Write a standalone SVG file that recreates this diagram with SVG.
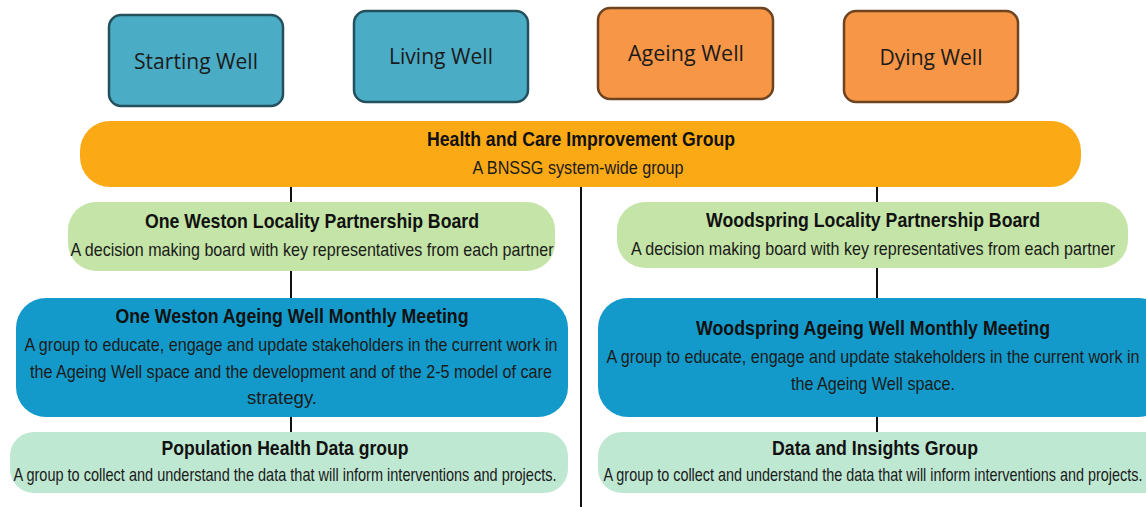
<svg xmlns="http://www.w3.org/2000/svg" width="1146" height="507" viewBox="0 0 1146 507">
  <style>
    .well { font-family: "Open Sans", "Liberation Sans", sans-serif; font-size: 21px; fill: #1b1b1b; text-anchor: middle; }
    .teal { fill: #4BACC6; stroke: #24505D; stroke-width: 2.5; }
    .amber { fill: #F79646; stroke: #6E4320; stroke-width: 2.5; }
    .t { font-family: "Liberation Sans Narrow", "Arial Narrow", "Liberation Sans", sans-serif; font-size: 21px; font-weight: bold; fill: #111; text-anchor: middle; }
    .s { font-family: "Liberation Sans Narrow", "Arial Narrow", "Liberation Sans", sans-serif; font-size: 19px; fill: #1a1a1a; text-anchor: middle; }
    .link { stroke: #111; stroke-width: 2; fill: none; }
  </style>

  <rect width="1146" height="507" fill="#ffffff"/>

  <!-- connectors -->
  <g id="connectors">
    <line class="link" x1="581" y1="187" x2="581" y2="507"/>
    <line class="link" x1="291" y1="187" x2="291" y2="202"/>
    <line class="link" x1="291" y1="271" x2="291" y2="298"/>
    <line class="link" x1="291" y1="417" x2="291" y2="432"/>
    <line class="link" x1="877" y1="187" x2="877" y2="202"/>
    <line class="link" x1="877" y1="268" x2="877" y2="298"/>
    <line class="link" x1="877" y1="417" x2="877" y2="432"/>
  </g>

  <!-- life-stage boxes -->
  <g id="starting-well">
    <rect class="teal" x="109" y="15" width="174" height="91" rx="12"/>
    <text class="well" x="196" y="69" textLength="124" lengthAdjust="spacingAndGlyphs">Starting Well</text>
  </g>
  <g id="living-well">
    <rect class="teal" x="354" y="11" width="174" height="91" rx="12"/>
    <text class="well" x="441" y="64" textLength="104" lengthAdjust="spacingAndGlyphs">Living Well</text>
  </g>
  <g id="ageing-well">
    <rect class="amber" x="598" y="8" width="175" height="91" rx="12"/>
    <text class="well" x="686" y="61" textLength="116" lengthAdjust="spacingAndGlyphs">Ageing Well</text>
  </g>
  <g id="dying-well">
    <rect class="amber" x="844" y="11" width="174" height="91" rx="12"/>
    <text class="well" x="931" y="65" textLength="103" lengthAdjust="spacingAndGlyphs">Dying Well</text>
  </g>

  <!-- system-wide group -->
  <g id="health-care-improvement">
    <rect x="80" y="121" width="1001" height="66" rx="30" fill="#FBA915"/>
    <text class="t" x="581" y="146" textLength="308" lengthAdjust="spacingAndGlyphs">Health and Care Improvement Group</text>
    <text class="s" x="578" y="174" textLength="211" lengthAdjust="spacingAndGlyphs">A BNSSG system-wide group</text>
  </g>

  <!-- locality boards -->
  <g id="one-weston-board">
    <rect x="68" y="202" width="487" height="69" rx="28" fill="#C4E5A7"/>
    <text class="t" x="312" y="228" textLength="334" lengthAdjust="spacingAndGlyphs">One Weston Locality Partnership Board</text>
    <text class="s" x="312" y="256" textLength="483" lengthAdjust="spacingAndGlyphs">A decision making board with key representatives from each partner</text>
  </g>
  <g id="woodspring-board">
    <rect x="617" y="202" width="511" height="66" rx="28" fill="#C4E5A7"/>
    <text class="t" x="873" y="227" textLength="334" lengthAdjust="spacingAndGlyphs">Woodspring Locality Partnership Board</text>
    <text class="s" x="873" y="255" textLength="484" lengthAdjust="spacingAndGlyphs">A decision making board with key representatives from each partner</text>
  </g>

  <!-- monthly meetings -->
  <g id="one-weston-meeting">
    <rect x="16" y="298" width="552" height="119" rx="30" fill="#139ACB"/>
    <text class="t" x="292" y="323" textLength="353" lengthAdjust="spacingAndGlyphs">One Weston Ageing Well Monthly Meeting</text>
    <text class="s" x="291" y="351" textLength="533" lengthAdjust="spacingAndGlyphs">A group to educate, engage and update stakeholders in the current work in</text>
    <text class="s" x="291" y="378" textLength="522" lengthAdjust="spacingAndGlyphs">the Ageing Well space and the development and of the 2-5 model of care</text>
    <text class="s" x="282" y="404" textLength="70" lengthAdjust="spacingAndGlyphs">strategy.</text>
  </g>
  <g id="woodspring-meeting">
    <rect x="598" y="298" width="570" height="119" rx="30" fill="#139ACB"/>
    <text class="t" x="873" y="335" textLength="354" lengthAdjust="spacingAndGlyphs">Woodspring Ageing Well Monthly Meeting</text>
    <text class="s" x="873" y="363" textLength="533" lengthAdjust="spacingAndGlyphs">A group to educate, engage and update stakeholders in the current work in</text>
    <text class="s" x="873" y="390" textLength="164" lengthAdjust="spacingAndGlyphs">the Ageing Well space.</text>
  </g>

  <!-- data groups -->
  <g id="population-health-data">
    <rect x="10" y="432" width="558" height="61" rx="24" fill="#BFE8D2"/>
    <text class="t" x="285" y="455" textLength="247" lengthAdjust="spacingAndGlyphs">Population Health Data group</text>
    <text class="s" x="285" y="481" textLength="543" lengthAdjust="spacingAndGlyphs">A group to collect and understand the data that will inform interventions and projects.</text>
  </g>
  <g id="data-insights">
    <rect x="598" y="432" width="570" height="61" rx="24" fill="#BFE8D2"/>
    <text class="t" x="875" y="455" textLength="206" lengthAdjust="spacingAndGlyphs">Data and Insights Group</text>
    <text class="s" x="873" y="481" textLength="539" lengthAdjust="spacingAndGlyphs">A group to collect and understand the data that will inform interventions and projects.</text>
  </g>
</svg>
